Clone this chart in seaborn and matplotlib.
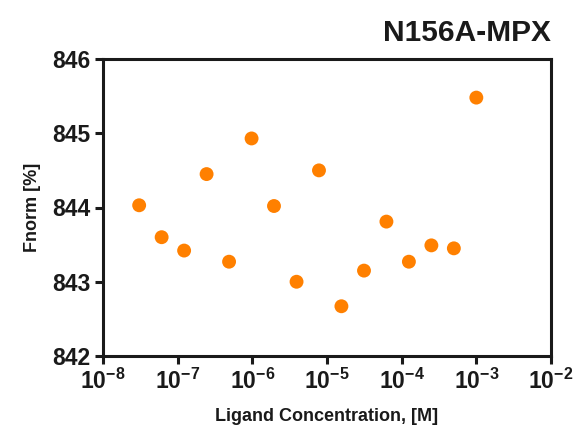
import numpy as np
import pandas as pd
import matplotlib
matplotlib.use('Agg')
import matplotlib.pyplot as plt
import seaborn as sns

# 数据：配体浓度 (M) 与 Fnorm (%)
concentration = [3.05e-8, 6.1e-8, 1.22e-7, 2.44e-7, 4.88e-7, 9.77e-7, 1.95e-6, 3.91e-6,
                 7.81e-6, 1.56e-5, 3.13e-5, 6.25e-5, 1.25e-4, 2.5e-4, 5e-4, 1e-3]
fnorm = [844.03, 843.60, 843.42, 844.45, 843.27, 844.93, 844.02, 843.00,
         844.50, 842.67, 843.15, 843.81, 843.27, 843.49, 843.45, 845.48]
xtick_exp = [-8, -7, -6, -5, -4, -3, -2]
ytick_vals = [842, 843, 844, 845, 846]

df = pd.DataFrame({'conc': concentration, 'fnorm': fnorm})

sns.set_style('white')
plt.rcParams['font.family'] = ['Liberation Sans', 'DejaVu Sans']
plt.rcParams['font.weight'] = 'bold'
plt.rcParams['mathtext.fontset'] = 'custom'
plt.rcParams['mathtext.rm'] = 'Liberation Sans:bold'
plt.rcParams['mathtext.bf'] = 'Liberation Sans:bold'

fig = plt.figure(figsize=(5.75, 4.28), dpi=100)
ax = fig.add_axes([103 / 575, 1 - 356 / 428, (551 - 103) / 575, (356 - 59) / 428])

sns.scatterplot(data=df, x='conc', y='fnorm', ax=ax, color='#ff8000',
                s=100, edgecolor='none', zorder=3)

ax.set_xscale('log')
ax.set_xlim(1e-8, 1e-2)
ax.set_ylim(842, 846)
ax.set_xticks([10.0 ** e for e in xtick_exp])
ax.set_xticklabels([r'$\mathbf{10^{%d}}$' % e for e in xtick_exp])
ax.minorticks_off()
ax.set_yticks(ytick_vals)
ax.set_yticklabels([str(v) for v in ytick_vals])

for sp in ax.spines.values():
    sp.set_linewidth(2.2)
    sp.set_color('#1a1a1a')
    sp.set_visible(True)

ax.tick_params(axis='both', direction='out', length=6, width=2.2, color='#1a1a1a',
               labelsize=16.5, labelcolor='#1a1a1a', bottom=True, left=True, pad=3)
for lab in ax.get_yticklabels():
    lab.set_fontweight('bold')

ax.set_xlabel('Ligand Concentration, [M]', fontsize=13, fontweight='bold',
              color='#1a1a1a', labelpad=10)
ax.set_ylabel('Fnorm [%]', fontsize=13, fontweight='bold', color='#1a1a1a', labelpad=8)
fig.text(551 / 575, 1 - 33 / 428, 'N156A-MPX', ha='right', va='center',
         fontsize=21.5, fontweight='bold', color='#1a1a1a')

fig.savefig('out.png', dpi=100)
